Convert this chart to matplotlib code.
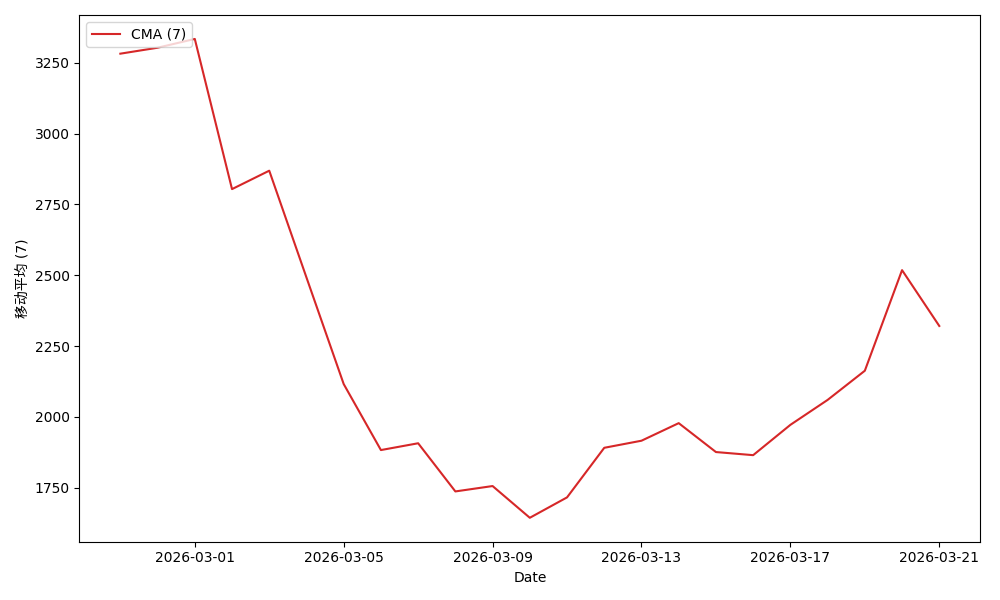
import numpy as np
import pandas as pd
import matplotlib
matplotlib.use('Agg')
import matplotlib.pyplot as plt
import matplotlib.dates as mdates

plt.rcParams['font.family'] = ['DejaVu Sans', 'Noto Sans CJK SC']

# daily dates and the 7-day CMA values
dates = pd.date_range('2026-02-27', '2026-03-21', freq='D')
cma = [3282, 3303, 3334, 2804, 2869, 2492, 2116, 1883, 1907, 1737,
       1756, 1644, 1716, 1891, 1916, 1978, 1876, 1865, 1972, 2060,
       2163, 2518, 2321]

ylabel = '移动平均 (7)'
series_label = 'CMA (7)'


def plot_data():
  fig, ax = plt.subplots(figsize=(10, 6), dpi=100)
  ax.plot(dates, cma, color='tab:red', label=series_label)
  ax.xaxis.set_major_locator(mdates.DayLocator(bymonthday=[1, 5, 9, 13, 17, 21]))
  ax.xaxis.set_major_formatter(mdates.DateFormatter('%Y-%m-%d'))
  ax.set_xlabel('Date')
  ax.set_ylabel(ylabel)
  ax.legend(loc='upper left')
  fig.tight_layout()
  fig.savefig('out.png')


if __name__ == "__main__":
  plot_data()
